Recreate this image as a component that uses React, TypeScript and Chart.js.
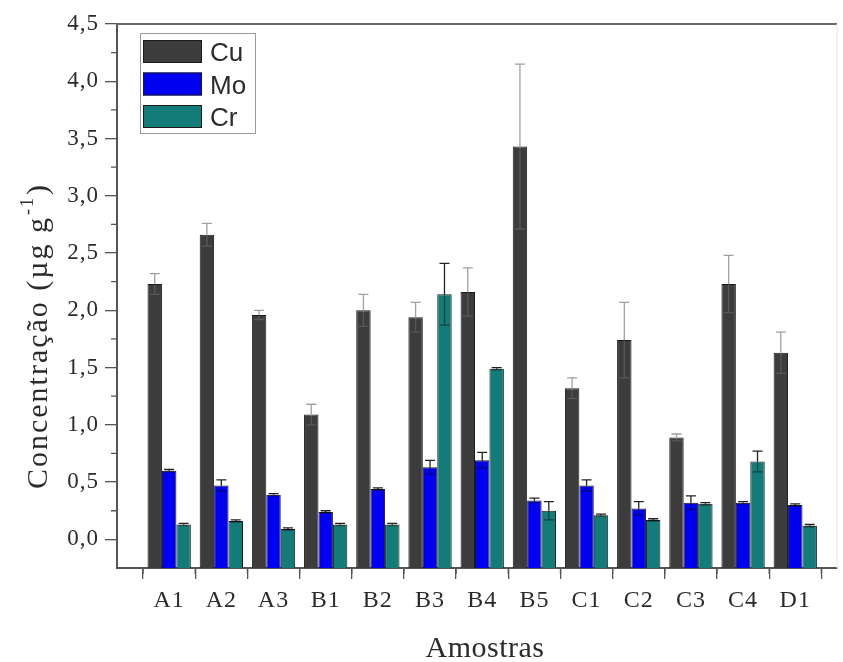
import { useEffect, useRef } from 'react';
import { Chart, registerables } from 'chart.js';

Chart.register(...registerables);

const categories = ['A1', 'A2', 'A3', 'B1', 'B2', 'B3', 'B4', 'B5', 'C1', 'C2', 'C3', 'C4', 'D1'];
const seriesNames = ['Cu', 'Mo', 'Cr'];
const cuValues = [2.23, 2.66, 1.96, 1.09, 2.0, 1.94, 2.16, 3.43, 1.32, 1.74, 0.89, 2.23, 1.63];
const cuErrors = [0.09, 0.1, 0.04, 0.09, 0.14, 0.13, 0.21, 0.72, 0.09, 0.33, 0.03, 0.25, 0.18];
const moValues = [0.6, 0.47, 0.39, 0.24, 0.44, 0.63, 0.69, 0.34, 0.47, 0.27, 0.32, 0.32, 0.3];
const moErrors = [0.01, 0.05, 0.01, 0.01, 0.01, 0.06, 0.07, 0.02, 0.05, 0.06, 0.06, 0.01, 0.01];
const crValues = [0.13, 0.16, 0.09, 0.13, 0.13, 2.14, 1.49, 0.25, 0.21, 0.17, 0.31, 0.68, 0.12];
const crErrors = [0.01, 0.01, 0.01, 0.01, 0.01, 0.27, 0.01, 0.08, 0.01, 0.01, 0.01, 0.09, 0.01];
const yTickValues = [0, 0.5, 1, 1.5, 2, 2.5, 3, 3.5, 4, 4.5];
const yMin = -0.25;
const yMax = 4.5;
const xMin = -1;
const xMax = 12.8;
const yTitle = 'Concentração (µg g';
const yTitleSup = '-1';
const yTitleEnd = ')';
const xTitle = 'Amostras';

const colors = ['#3c3c3c', '#0000f2', '#137c78'];
const errColors = ['#a0a0a0', '#222222', '#222222'];
const errInnerColors = ['rgba(255,255,255,0.14)', 'rgba(0,0,0,0.45)', 'rgba(0,0,0,0.45)'];
const serif = "'Liberation Serif', 'Times New Roman', serif";
const sans = "'Liberation Sans', Arial, sans-serif";
const textColor = '#2b2b2b';

const errorsBySeries = [cuErrors, moErrors, crErrors];
const valuesBySeries = [cuValues, moValues, crValues];

Chart.defaults.font.family = serif;

const spacingPlugin = {
  id: 'spacing',
  beforeDraw(chart: any) {
    const ctx = chart.ctx as any;
    if ('letterSpacing' in ctx) ctx.letterSpacing = '1px';
  },
};

const decoPlugin = {
  id: 'deco',
  afterDatasetsDraw(chart: any) {
    const { chartArea, scales } = chart;
    const ctx = chart.ctx as any;
    const xs = scales.x;
    const ys = scales.y;
    ctx.save();
    chart.data.datasets.forEach((ds: any, di: number) => {
      const meta = chart.getDatasetMeta(di);
      const errs = errorsBySeries[di];
      meta.data.forEach((bar: any, i: number) => {
        const v = valuesBySeries[di][i];
        const e = errs[i];
        const x = bar.x;
        const yv = ys.getPixelForValue(v);
        const yt = ys.getPixelForValue(v + e);
        const yb = ys.getPixelForValue(v - e);
        const cap = 5;
        ctx.lineWidth = 1.3;
        ctx.strokeStyle = errColors[di];
        ctx.beginPath();
        ctx.moveTo(x, yv);
        ctx.lineTo(x, yt);
        ctx.moveTo(x - cap, yt);
        ctx.lineTo(x + cap, yt);
        ctx.stroke();
        ctx.strokeStyle = errInnerColors[di];
        ctx.beginPath();
        ctx.moveTo(x, yv);
        ctx.lineTo(x, yb);
        ctx.moveTo(x - cap, yb);
        ctx.lineTo(x + cap, yb);
        ctx.stroke();
      });
    });
    ctx.strokeStyle = '#6a6a6a';
    ctx.lineWidth = 2;
    ctx.beginPath();
    ctx.moveTo(chartArea.left, chartArea.top);
    ctx.lineTo(chartArea.right, chartArea.top);
    ctx.stroke();
    ctx.strokeStyle = '#e4e4e4';
    ctx.lineWidth = 1;
    ctx.beginPath();
    ctx.moveTo(chartArea.right, chartArea.top);
    ctx.lineTo(chartArea.right, chartArea.bottom);
    ctx.stroke();
    ctx.strokeStyle = '#555';
    ctx.lineWidth = 1.3;
    ctx.beginPath();
    for (let v = yMin + 0.5; v < yMax; v += 0.5) {
      const y = ys.getPixelForValue(v);
      ctx.moveTo(chartArea.left, y);
      ctx.lineTo(chartArea.left - 6, y);
    }
    for (let v = xMin + 0.5; v < xMax; v += 1) {
      const x = xs.getPixelForValue(v);
      ctx.moveTo(x, chartArea.bottom);
      ctx.lineTo(x, chartArea.bottom + 6);
    }
    ctx.stroke();
    // legend
    const lx = chartArea.left + 23;
    const ly = chartArea.top + 9;
    ctx.strokeStyle = '#9a9a9a';
    ctx.lineWidth = 1;
    ctx.strokeRect(lx + 0.5, ly + 0.5, 115, 100);
    if ('letterSpacing' in ctx) ctx.letterSpacing = '0px';
    ctx.font = `26px ${sans}`;
    ctx.textAlign = 'left';
    ctx.textBaseline = 'alphabetic';
    chart.data.datasets.forEach((ds: any, di: number) => {
      const ry = ly + 7 + di * 32.5;
      ctx.fillStyle = ds.backgroundColor;
      ctx.fillRect(lx + 3, ry, 59, 23);
      ctx.strokeStyle = '#1a1a1a';
      ctx.strokeRect(lx + 3.5, ry + 0.5, 58, 22);
      ctx.fillStyle = textColor;
      ctx.fillText(ds.label, lx + 70, ry + 21);
    });
    // x title
    if ('letterSpacing' in ctx) ctx.letterSpacing = '0.5px';
    ctx.fillStyle = textColor;
    ctx.font = `30px ${serif}`;
    ctx.textAlign = 'center';
    ctx.fillText(xTitle, (chartArea.left + chartArea.right) / 2 + 8, 657);
    // y title
    ctx.save();
    if ('letterSpacing' in ctx) ctx.letterSpacing = '2px';
    ctx.translate(47, 336);
    ctx.rotate(-Math.PI / 2);
    ctx.font = `30px ${serif}`;
    const w1 = ctx.measureText(yTitle).width;
    ctx.font = `18px ${serif}`;
    const w2 = ctx.measureText(yTitleSup).width;
    ctx.font = `30px ${serif}`;
    const w3 = ctx.measureText(yTitleEnd).width;
    const total = w1 + w2 + w3 + 2;
    let cx = -total / 2;
    ctx.textAlign = 'left';
    ctx.fillText(yTitle, cx, 0);
    cx += w1 + 1;
    ctx.font = `18px ${serif}`;
    ctx.fillText(yTitleSup, cx, -14);
    cx += w2 + 1;
    ctx.font = `30px ${serif}`;
    ctx.fillText(yTitleEnd, cx, 0);
    ctx.restore();
    ctx.restore();
  },
};

export default function App() {
  const ref = useRef<HTMLCanvasElement | null>(null);
  useEffect(() => {
    if (!ref.current) return;
    const mk = (vals: number[], di: number) => ({
      label: seriesNames[di],
      data: vals.map((v, i) => ({ x: i, y: v })),
      backgroundColor: colors[di],
      borderColor: '#1a1a1a',
      borderWidth: 1,
      base: yMin,
      categoryPercentage: 0.83,
      barPercentage: 1.0,
    });
    const chart = new Chart(ref.current, {
      type: 'bar',
      data: {
        datasets: [mk(cuValues, 0), mk(moValues, 1), mk(crValues, 2)] as any,
      },
      options: {
        animation: false,
        responsive: true,
        maintainAspectRatio: false,
        layout: { padding: { top: 24, right: 6, left: 0, bottom: 0 } },
        plugins: { legend: { display: false }, tooltip: { enabled: false } },
        scales: {
          x: {
            type: 'linear',
            min: xMin,
            max: xMax,
            offset: false,
            afterBuildTicks: (s: any) => {
              s.ticks = categories.map((_, i) => ({ value: i }));
            },
            afterFit: (s: any) => {
              s.height = 94;
            },
            ticks: {
              callback: (v: any) => categories[Math.round(Number(v))] ?? '',
              font: { family: serif, size: 24 },
              color: textColor,
              padding: 7,
              maxRotation: 0,
              autoSkip: false,
            },
            grid: { drawOnChartArea: false, tickLength: 11, color: '#555', lineWidth: 1.3 },
            border: { display: true, color: '#555', width: 2 },
          },
          y: {
            type: 'linear',
            min: yMin,
            max: yMax,
            afterBuildTicks: (s: any) => {
              s.ticks = yTickValues.map((v) => ({ value: v }));
            },
            afterFit: (s: any) => {
              s.width = 117;
            },
            ticks: {
              callback: (v: any) => Number(v).toFixed(1).replace('.', ','),
              font: { family: serif, size: 23 },
              color: textColor,
              padding: 6,
            },
            grid: { drawOnChartArea: false, tickLength: 12, color: '#555', lineWidth: 1.3 },
            border: { display: true, color: '#555', width: 2 },
          },
        },
      },
      plugins: [spacingPlugin, decoPlugin],
    });
    return () => chart.destroy();
  }, []);
  return (
    <div style={{ position: 'fixed', left: 0, top: 0, width: 843, height: 662, background: '#fff' }}>
      <canvas ref={ref} />
    </div>
  );
}
